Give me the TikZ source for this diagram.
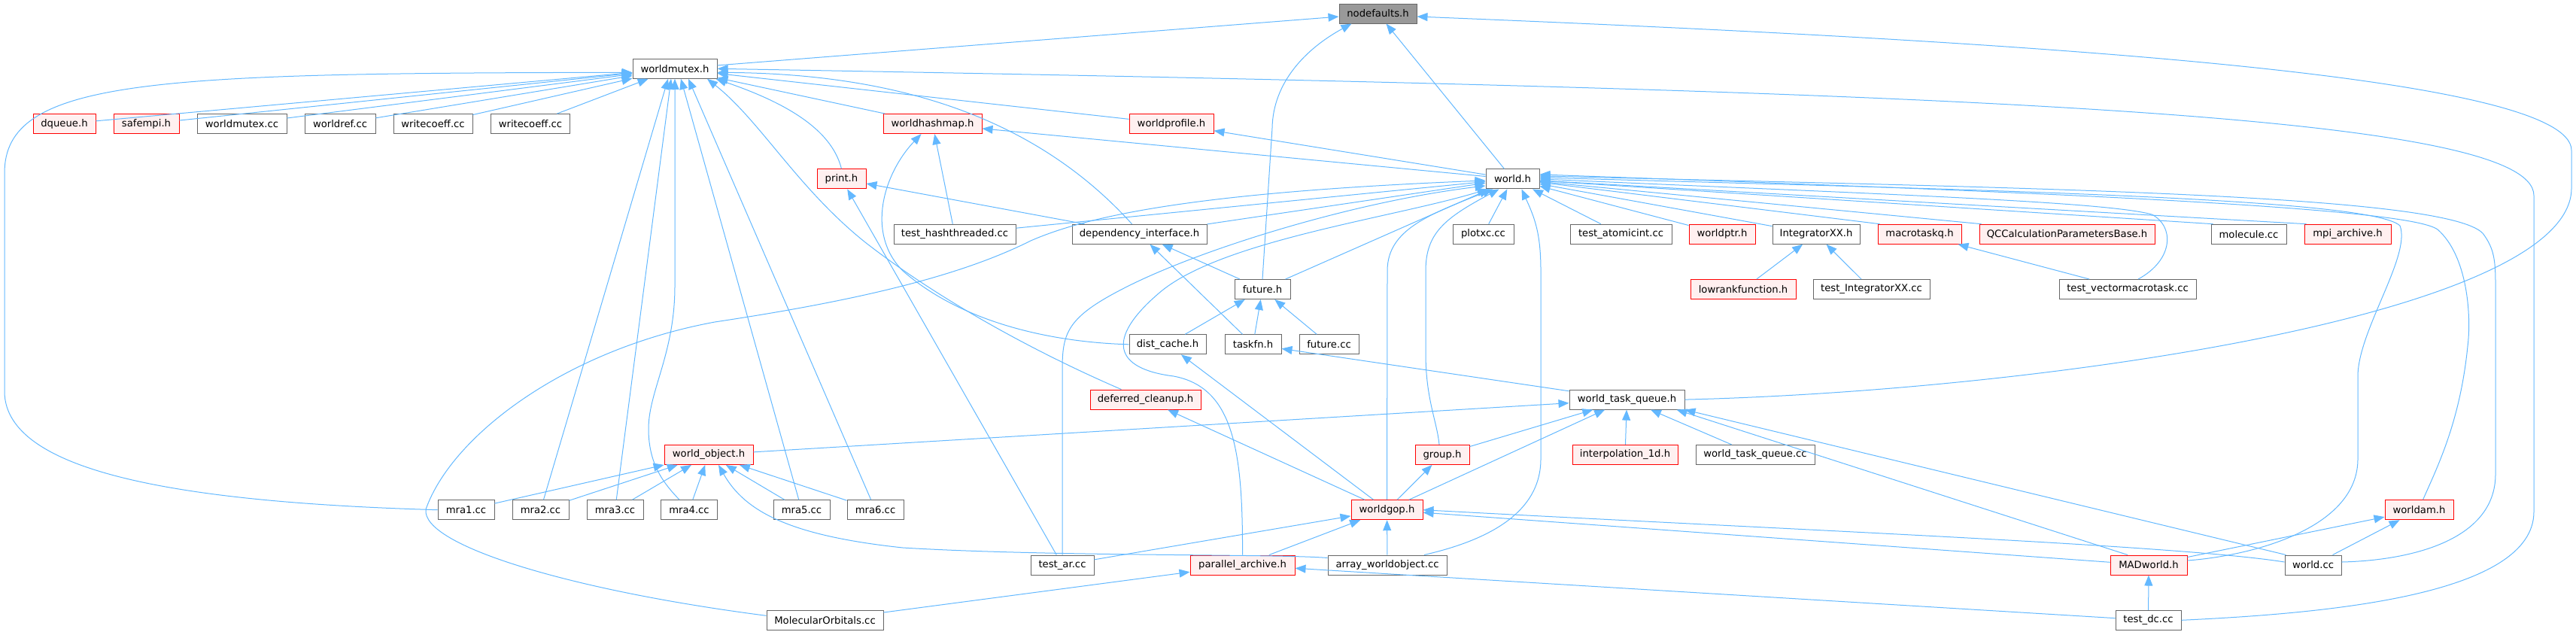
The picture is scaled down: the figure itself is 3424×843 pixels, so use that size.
\documentclass[tikz,border=0pt]{standalone}
\usepackage{fontspec}
\setmainfont{DejaVu Sans}
\usetikzlibrary{calc,arrows.meta}
\definecolor{edgec}{HTML}{63B8FF}
\definecolor{rbd}{HTML}{FF0000}
\definecolor{rfl}{HTML}{FFF0F0}
\definecolor{gbd}{HTML}{666666}
\definecolor{rootfl}{HTML}{999999}
\begin{document}
\begin{tikzpicture}[x=0.5pt,y=-0.5pt,
  nbox/.style={rectangle, draw, line width=0.5pt, minimum height=13pt, inner sep=0pt, font=\fontsize{6.6}{8}\selectfont, text=black},
  gbox/.style={nbox, draw=gbd, fill=white},
  rbox/.style={nbox, draw=rbd, fill=rfl},
  rootbox/.style={nbox, draw=gbd, fill=rootfl},
  lnk/.style={draw=edgec, line width=0.5pt, arrows={Triangle[length=7pt,width=5.5pt]-}}]
\useasboundingbox (0,0) rectangle (3424,843);

% nodes
\node[rootbox, minimum width=51.5pt] (ndf) at (1831.5,18) {nodefaults.h};
\node[gbox, minimum width=56pt] (wm) at (897,91.3) {worldmutex.h};
\node[rbox, minimum width=41.5pt] (dq) at (85.5,164.6) {dqueue.h};
\node[rbox, minimum width=43.5pt] (sm) at (194.5,164.6) {safempi.h};
\node[gbox, minimum width=59.5pt] (wmcc) at (321.5,164.6) {worldmutex.cc};
\node[gbox, minimum width=47pt] (wrcc) at (452,164.6) {worldref.cc};
\node[gbox, minimum width=52.5pt] (wc1) at (575.5,164.6) {writecoeff.cc};
\node[gbox, minimum width=52.5pt] (wc2) at (705,164.6) {writecoeff.cc};
\node[rbox, minimum width=65.5pt] (whm) at (1239.5,164.6) {worldhashmap.h};
\node[rbox, minimum width=56pt] (wpr) at (1557,164.6) {worldprofile.h};
\node[rbox, minimum width=32.5pt] (prt) at (1118.5,237.9) {print.h};
\node[gbox, minimum width=35.5pt] (wld) at (2010.5,237.9) {world.h};
\node[gbox, minimum width=81pt] (thc) at (1269,311.2) {test\_hashthreaded.cc};
\node[gbox, minimum width=89.5pt] (depi) at (1514.5,311.2) {dependency\_interface.h};
\node[gbox, minimum width=40.5pt] (pxc) at (1971.5,311.2) {plotxc.cc};
\node[gbox, minimum width=67.5pt] (tai) at (2154.5,311.2) {test\_atomicint.cc};
\node[rbox, minimum width=44pt] (wptr) at (2289,311.2) {worldptr.h};
\node[gbox, minimum width=58pt] (ixx) at (2414,311.2) {IntegratorXX.h};
\node[rbox, minimum width=55.5pt] (mtq) at (2551.5,311.2) {macrotaskq.h};
\node[rbox, minimum width=116.5pt] (qcc) at (2747.5,311.2) {QCCalculationParametersBase.h};
\node[gbox, minimum width=50pt] (mol) at (2989,311.2) {molecule.cc};
\node[rbox, minimum width=57.5pt] (mpa) at (3120.5,311.2) {mpi\_archive.h};
\node[gbox, minimum width=37pt] (fut) at (1678,384.5) {future.h};
\node[rbox, minimum width=70pt] (lrf) at (2317,384.5) {lowrankfunction.h};
\node[gbox, minimum width=77.5pt] (tixx) at (2487.5,384.5) {test\_IntegratorXX.cc};
\node[gbox, minimum width=91pt] (tvm) at (2828,384.5) {test\_vectormacrotask.cc};
\node[gbox, minimum width=51pt] (dch) at (1552,457.8) {dist\_cache.h};
\node[gbox, minimum width=37.5pt] (tfn) at (1665.5,457.8) {taskfn.h};
\node[gbox, minimum width=39.5pt] (fcc) at (1766.5,457.8) {future.cc};
\node[rbox, minimum width=73.5pt] (dcl) at (1522.5,531.1) {deferred\_cleanup.h};
\node[gbox, minimum width=76.5pt] (wtq) at (2162.5,531.1) {world\_task\_queue.h};
\node[rbox, minimum width=59pt] (wobj) at (942,604.4) {world\_object.h};
\node[rbox, minimum width=36pt] (grp) at (1917,604.4) {group.h};
\node[rbox, minimum width=70pt] (i1d) at (2160,604.4) {interpolation\_1d.h};
\node[gbox, minimum width=79pt] (wtqcc) at (2333,604.4) {world\_task\_queue.cc};
\node[gbox, minimum width=37.5pt] (m1) at (619.5,677.7) {mra1.cc};
\node[gbox, minimum width=37.5pt] (m2) at (718.5,677.7) {mra2.cc};
\node[gbox, minimum width=37.5pt] (m3) at (817.5,677.7) {mra3.cc};
\node[gbox, minimum width=37.5pt] (m4) at (916,677.7) {mra4.cc};
\node[gbox, minimum width=37.5pt] (m5) at (1065.5,677.7) {mra5.cc};
\node[gbox, minimum width=37.5pt] (m6) at (1163.5,677.7) {mra6.cc};
\node[rbox, minimum width=47.5pt] (wgop) at (1843.5,677.7) {worldgop.h};
\node[rbox, minimum width=45.5pt] (wam) at (3215.5,677.7) {worldam.h};
\node[gbox, minimum width=42pt] (tar) at (1412,751) {test\_ar.cc};
\node[rbox, minimum width=69.5pt] (par) at (1651.5,751) {parallel\_archive.h};
\node[gbox, minimum width=79pt] (awo) at (1844,751) {array\_worldobject.cc};
\node[rbox, minimum width=51pt] (madw) at (2856,751) {MADworld.h};
\node[gbox, minimum width=37.5pt] (wcc) at (3074.5,751) {world.cc};
\node[gbox, minimum width=77.5pt] (mo) at (1096.5,824.3) {MolecularOrbitals.cc};
\node[gbox, minimum width=43.5pt] (tdc) at (2855.5,824.3) {test\_dc.cc};

% edges into nodefaults.h
\draw[lnk] (ndf) -- (wm);
\draw[lnk] ($(ndf.south west)+(17,0)$) .. controls (1735,65) and (1692,110) .. (1691,170) -- (fut.north);
\draw[lnk] (ndf) -- (wld);
\draw[lnk] ($(ndf.east)+(0,4)$) .. controls (2700,55) and (3418,100) .. (3418,200) -- (3418,250) .. controls (3418,420) and (2700,520) .. (wtq.east);

% edges into worldmutex.h
\draw[lnk] (wm.east) .. controls (2600,120) and (3368,150) .. (3368,260) -- (3368,680) .. controls (3368,790) and (3100,815) .. (tdc.east);
\draw[lnk] (wm) -- (dq);
\draw[lnk] (wm) -- (sm);
\draw[lnk] (wm) -- (wmcc);
\draw[lnk] (wm) -- (wrcc);
\draw[lnk] (wm) -- (wc1);
\draw[lnk] (wm) -- (wc2);
\draw[lnk] ($(wm.west)+(0,5)$) .. controls (200,97) and (6,105) .. (6,230) -- (6,520) .. controls (6,630) and (250,668) .. (m1.west);
\draw[lnk] ($(wm.south)+(-9,0)$) -- (m2);
\draw[lnk] ($(wm.south)+(-5,0)$) -- (m3);
\draw[lnk] (wm.south) -- (897,380) .. controls (897,470) and (862,520) .. (862,570) .. controls (862,620) and (885,645) .. ($(m4.north)+(-13,0)$);
\draw[lnk] ($(wm.south)+(8,0)$) -- (m5);
\draw[lnk] ($(wm.south)+(18,0)$) -- (m6);
\draw[lnk] ($(wm.south east)+(-2,0)$) .. controls (1040,135) and (1105,170) .. (prt.north);
\draw[lnk] ($(wm.south)+(43,0)$) .. controls (1010,160) and (1060,250) .. (1150,322) .. controls (1250,400) and (1380,470) .. ($(dcl.north west)+(42,0)$);
\draw[lnk] (wm) -- (whm);
\draw[lnk] (wm) -- (wpr);
\draw[lnk] ($(wm.east)+(0,5)$) .. controls (1200,98) and (1380,160) .. ($(depi.north)+(-10,0)$);

% print.h, worldhashmap.h, worldprofile.h
\draw[lnk] (prt) -- (tar);
\draw[lnk] (prt) -- (depi);
\draw[lnk] (whm) -- (thc);
\draw[lnk] ($(whm.south)+(-15,0)$) .. controls (1175,230) and (1150,310) .. (1200,360) .. controls (1280,430) and (1400,455) .. (dch.west);
\draw[lnk] (whm) -- (wld);
\draw[lnk] (wpr) -- (wld);

% edges into world.h
\draw[lnk] ($(wld.west)+(0,2)$) .. controls (1600,255) and (1450,285) .. (1370,320) .. controls (1280,365) and (1150,398) .. (950,428) .. controls (750,465) and (600,580) .. (566,677) .. controls (560,725) and (760,785) .. ($(mo.west)+(0,-6)$);
\draw[lnk] ($(wld.west)+(0,9)$) .. controls (1800,268) and (1600,330) .. (1500,380) .. controls (1420,420) and (1412,440) .. (1412,490) -- (tar.north);
\draw[lnk] ($(wld.south west)+(3,0)$) .. controls (1850,290) and (1620,320) .. (1540,390) .. controls (1470,450) and (1480,490) .. (1560,500) .. controls (1640,515) and (1652,600) .. (par.north);
\draw[lnk] (wld) -- (thc);
\draw[lnk] (wld) -- (depi);
\draw[lnk] (wld) -- (fut);
\draw[lnk] ($(wld.south west)+(10,0)$) .. controls (1900,285) and (1844,305) .. (1844,360) -- (wgop.north);
\draw[lnk] ($(wld.south west)+(18,0)$) .. controls (1920,290) and (1895,310) .. (1895,360) -- (1895,470) .. controls (1895,530) and (1910,560) .. ($(grp.north)+(-4,0)$);
\draw[lnk] ($(wld.south)+(12,0)$) .. controls (2040,290) and (2048,310) .. (2048,360) -- (2048,610) .. controls (2048,690) and (1960,722) .. ($(awo.north)+(49,0)$);
\draw[lnk] (wld) -- (pxc);
\draw[lnk] (wld) -- (tai);
\draw[lnk] (wld) -- (wptr);
\draw[lnk] (wld) -- (ixx);
\draw[lnk] (wld) -- ($(mtq.north west)+(3,0)$);
\draw[lnk] (wld) -- ($(qcc.north west)+(3,0)$);
\draw[lnk] (wld) -- ($(mol.north west)+(3,0)$);
\draw[lnk] (wld) -- ($(mpa.north west)+(3,0)$);
\draw[lnk] (wld.east) .. controls (2500,258) and (2800,268) .. (2860,285) .. controls (2890,300) and (2890,345) .. ($(tvm.north)+(14,0)$);
\draw[lnk] ($(wld.east)+(0,-2)$) .. controls (2600,252) and (3150,262) .. (3190,300) .. controls (3205,340) and (3134,440) .. (3134,500) -- (3134,610) .. controls (3134,700) and (3000,738) .. ($(madw.east)+(0,-6)$);
\draw[lnk] ($(wld.east)+(0,-6)$) .. controls (2700,255) and (3200,275) .. (3240,305) .. controls (3280,340) and (3285,420) .. (3280,460) .. controls (3270,560) and (3240,620) .. ($(wam.north)+(5,0)$);
\draw[lnk] ($(wld.east)+(0,-4)$) .. controls (2700,250) and (3250,258) .. (3300,310) .. controls (3315,330) and (3317,345) .. (3317,380) -- (3317,630) .. controls (3317,720) and (3200,745) .. ($(wcc.east)+(0,-4)$);

% world_task_queue.h
\draw[lnk] (wtq) -- (wobj);
\draw[lnk] (tfn) -- (wtq);
\draw[lnk] (wtq) -- (grp);
\draw[lnk] (wtq) -- (wgop);
\draw[lnk] (wtq) -- (i1d);
\draw[lnk] (wtq) -- (wtqcc);
\draw[lnk] ($(wtq.south east)+(-11,0)$) -- ($(madw.north)+(-28,0)$);
\draw[lnk] (wtq.south east) -- ($(wcc.north west)+(2,0)$);

% worldgop.h
\draw[lnk] (grp) -- (wgop);
\draw[lnk] (dch) -- (wgop);
\draw[lnk] (dcl) -- (wgop);
\draw[lnk] (wgop) -- (tar);
\draw[lnk] (wgop) -- (par);
\draw[lnk] (wgop) -- (awo);
\draw[lnk] (wgop) -- (madw);
\draw[lnk] (wgop.east) .. controls (2400,705) and (2900,725) .. ($(wcc.west)+(0,-4)$);

% world_object.h
\draw[lnk] (wobj) -- (m1);
\draw[lnk] (wobj) -- (m2);
\draw[lnk] (wobj) -- (m3);
\draw[lnk] (wobj) -- (m4);
\draw[lnk] (wobj) -- (m5);
\draw[lnk] (wobj) -- (m6);
\draw[lnk] ($(wobj.south)+(13,0)$) .. controls (990,680) and (1050,712) .. (1200,728) .. controls (1400,740) and (1700,736) .. ($(awo.north west)+(0,4)$);

% remaining
\draw[lnk] (par) -- (mo);
\draw[lnk] (par) -- (tdc);
\draw[lnk] (madw) -- (tdc);
\draw[lnk] (wam) -- (madw);
\draw[lnk] (wam) -- (wcc);
\draw[lnk] (ixx) -- (lrf);
\draw[lnk] (ixx) -- (tixx);
\draw[lnk] (mtq) -- (tvm);
\draw[lnk] (depi) -- (fut);
\draw[lnk] (depi) -- (tfn);
\draw[lnk] (fut) -- (dch);
\draw[lnk] (fut) -- (tfn);
\draw[lnk] (fut) -- (fcc);
\end{tikzpicture}
\end{document}
